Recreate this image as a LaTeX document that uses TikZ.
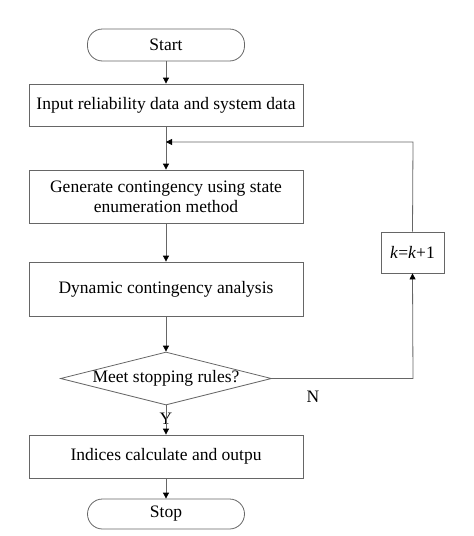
\documentclass[tikz,border=0pt]{standalone}
\usepackage{fontspec}
\setmainfont{Liberation Serif}
\usetikzlibrary{shapes.geometric,arrows.meta}
\begin{document}
\begin{tikzpicture}[x=1pt,y=-1pt,
  font=\fontsize{17.5}{20}\selectfont,
  boxst/.style={draw=black!60,line width=0.8pt,minimum width=274pt,inner sep=0pt,align=center},
  term/.style={draw=black!60,line width=0.8pt,rounded corners=15pt,minimum width=157pt,inner sep=0pt},
  dec/.style={draw=black!60,line width=0.8pt,diamond,aspect=4,minimum width=211pt,minimum height=53pt,inner sep=0pt},
  conn/.style={draw=black!60,line width=0.8pt,-{Triangle[length=6pt,width=6pt,fill=black,color=black]}},
  plain/.style={draw=black!60,line width=0.8pt}]
\useasboundingbox (0,0) rectangle (474,536);
\node[term,minimum height=32pt] (start) at (166,45) {Start};
\node[boxst,minimum height=42pt] (input) at (166,105) {Input reliability data and system data};
\node[boxst,minimum height=53pt] (gen) at (166,196.5) {Generate contingency using state\\enumeration method};
\node[boxst,minimum height=54pt] (dyn) at (166,289) {Dynamic contingency analysis};
\node[dec] (meet) at (166,378.5) {Meet stopping rules?};
\node[boxst,minimum height=43pt] (ind) at (166,456.5) {Indices calculate and outpu};
\node[term,minimum height=30pt] (stop) at (166,514) {Stop};
\node[draw=black!60,line width=0.8pt,minimum width=63pt,minimum height=41pt,inner sep=0pt] (kk) at (412.5,252.5) {\textit{k}=\textit{k}+1};
\coordinate (join) at (166,142);
\coordinate (cr) at (413,378.5);
\coordinate (tr) at (413,142);
\node (nlab) at (313,397) {N};
\node (ylab) at (166,419) {Y};
\draw[conn] (start) -- (input);
\draw[plain] (input) -- (join);
\draw[conn] (join) -- (gen);
\draw[conn] (gen) -- (dyn);
\draw[conn] (dyn) -- (meet);
\draw[conn] (meet) -- (ind);
\draw[conn] (ind) -- (stop);
\draw[conn] (meet.east) -- (cr) -- (kk.south);
\draw[conn] (kk.north) -- (tr) -- (join);
\end{tikzpicture}
\end{document}
